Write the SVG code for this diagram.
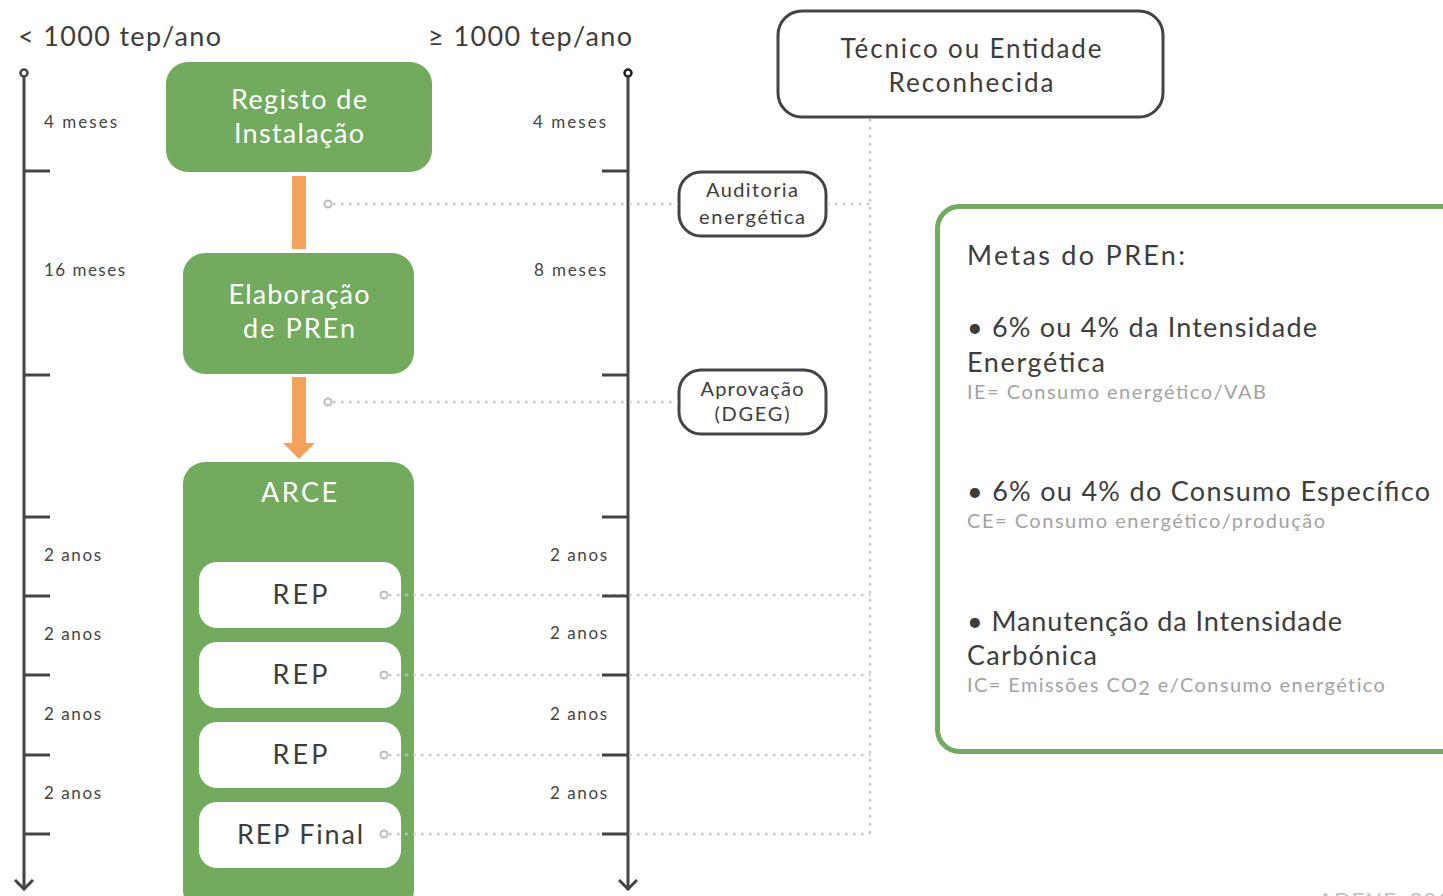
<svg xmlns="http://www.w3.org/2000/svg" width="1443" height="896" viewBox="0 0 1443 896">
<style>
text{font-family:Lato,"Open Sans",sans-serif}
.hd{font-size:27px;fill:#3d3d3d}
.dur{font-size:17px;fill:#444}
.gbox{fill:#72ab5e}
.gt{font-size:27px;fill:#fff;text-anchor:middle}
.wbox{fill:#fff}
.rt{font-size:27px;fill:#3d3d3d;text-anchor:middle}
.obox{fill:#fff;stroke:#444;stroke-width:3}
.ot{font-size:20px;fill:#3d3d3d;text-anchor:middle}
.tl{stroke:#444;stroke-width:3;fill:none}
.dot{stroke:#c6c6c6;stroke-width:2.5;stroke-dasharray:2.5 5.5;fill:none}
.pin{fill:#fff;stroke:#bdbdbd;stroke-width:2}
.mt{font-size:27px;fill:#3d3d3d}
.ms{font-size:20px;fill:#a3a3a3}
</style>
<defs>
<marker id="chev" viewBox="0 0 20 12" refX="10" refY="11" markerWidth="20" markerHeight="12" markerUnits="userSpaceOnUse" orient="0">
<path d="M1,1 L10,10 L19,1" fill="none" stroke="#444" stroke-width="3"/>
</marker>
</defs>

<text class="hd" x="18" y="46" textLength="203" lengthAdjust="spacing">&lt; 1000 tep/ano</text>
<text class="hd" x="428" y="46" textLength="204" lengthAdjust="spacing">≥ 1000 tep/ano</text>

<g id="timeline-left">
<line class="tl" x1="24" y1="77" x2="24" y2="890" marker-end="url(#chev)"/>
<circle cx="24" cy="73" r="3.5" fill="#fff" stroke="#444" stroke-width="2.5"/>
<path class="tl" d="M24,171H50M24,375H50M24,517H50M24,596H50M24,675H50M24,755H50M24,834H50"/>
<text class="dur" x="44" y="128" textLength="73" lengthAdjust="spacing">4 meses</text>
<text class="dur" x="44" y="276" textLength="81" lengthAdjust="spacing">16 meses</text>
<text class="dur" x="44" y="561" textLength="57" lengthAdjust="spacing">2 anos</text>
<text class="dur" x="44" y="640" textLength="57" lengthAdjust="spacing">2 anos</text>
<text class="dur" x="44" y="720" textLength="57" lengthAdjust="spacing">2 anos</text>
<text class="dur" x="44" y="799" textLength="57" lengthAdjust="spacing">2 anos</text>
</g>

<g id="timeline-right">
<line class="tl" x1="628" y1="77" x2="628" y2="890" marker-end="url(#chev)"/>
<circle cx="628" cy="73" r="3.5" fill="#fff" stroke="#222" stroke-width="2.5"/>
<text class="dur" x="533" y="128" textLength="73" lengthAdjust="spacing">4 meses</text>
<text class="dur" x="534" y="276" textLength="72" lengthAdjust="spacing">8 meses</text>
<text class="dur" x="550" y="561" textLength="57" lengthAdjust="spacing">2 anos</text>
<text class="dur" x="550" y="639" textLength="57" lengthAdjust="spacing">2 anos</text>
<text class="dur" x="550" y="720" textLength="57" lengthAdjust="spacing">2 anos</text>
<text class="dur" x="550" y="799" textLength="57" lengthAdjust="spacing">2 anos</text>
</g>

<g id="registo">
<rect class="gbox" x="166" y="62" width="266" height="110" rx="22"/>
<text class="gt" x="299" y="109" textLength="136" lengthAdjust="spacing">Registo de</text>
<text class="gt" x="299" y="143" textLength="130" lengthAdjust="spacing">Instalação</text>
</g>

<g id="elaboracao">
<rect class="gbox" x="183" y="253" width="231" height="121" rx="22"/>
<text class="gt" x="299" y="304" textLength="141" lengthAdjust="spacing">Elaboração</text>
<text class="gt" x="299" y="338" textLength="112" lengthAdjust="spacing">de PREn</text>
</g>

<g id="arce">
<rect class="gbox" x="183" y="462" width="231" height="450" rx="22"/>
<text class="gt" x="299" y="502" textLength="76" lengthAdjust="spacing">ARCE</text>
</g>

<g id="rep1">
<rect class="wbox" x="199" y="562" width="202" height="66" rx="18"/>
<text class="rt" x="300" y="604" textLength="55" lengthAdjust="spacing">REP</text>
</g>
<g id="rep2">
<rect class="wbox" x="199" y="642" width="202" height="66" rx="18"/>
<text class="rt" x="300" y="684" textLength="55" lengthAdjust="spacing">REP</text>
</g>
<g id="rep3">
<rect class="wbox" x="199" y="722" width="202" height="66" rx="18"/>
<text class="rt" x="300" y="764" textLength="55" lengthAdjust="spacing">REP</text>
</g>
<g id="rep-final">
<rect class="wbox" x="199" y="802" width="202" height="66" rx="18"/>
<text class="rt" x="300" y="844" textLength="126" lengthAdjust="spacing">REP Final</text>
</g>

<g id="auditoria">
<rect class="obox" x="679" y="172" width="147" height="64" rx="22"/>
<text class="ot" x="752" y="197" textLength="92" lengthAdjust="spacing">Auditoria</text>
<text class="ot" x="752" y="224" textLength="106" lengthAdjust="spacing">energética</text>
</g>

<g id="aprovacao">
<rect class="obox" x="679" y="370" width="147" height="64" rx="22"/>
<text class="ot" x="752" y="396" textLength="103" lengthAdjust="spacing">Aprovação</text>
<text class="ot" x="752" y="421" textLength="75" lengthAdjust="spacing">(DGEG)</text>
</g>

<g id="tecnico">
<rect class="obox" x="778" y="11" width="385" height="106" rx="24"/>
<text class="ot" x="971" y="58" style="font-size:26px" textLength="261" lengthAdjust="spacing">Técnico ou Entidade</text>
<text class="ot" x="971" y="92" style="font-size:26px" textLength="165" lengthAdjust="spacing">Reconhecida</text>
</g>

<g id="metas">
<rect x="937.5" y="206.5" width="560" height="545" rx="22" fill="#fff" stroke="#72ab5e" stroke-width="5"/>
<text class="mt" x="967" y="265" textLength="218" lengthAdjust="spacing">Metas do PREn:</text>
<text class="mt" x="967" y="337" textLength="350" lengthAdjust="spacing">• 6% ou 4% da Intensidade</text>
<text class="mt" x="967" y="372" textLength="138" lengthAdjust="spacing">Energética</text>
<text class="ms" x="967" y="399" textLength="299" lengthAdjust="spacing">IE= Consumo energético/VAB</text>
<text class="mt" x="967" y="501" textLength="463" lengthAdjust="spacing">• 6% ou 4% do Consumo Específico</text>
<text class="ms" x="967" y="528" textLength="358" lengthAdjust="spacing">CE= Consumo energético/produção</text>
<text class="mt" x="967" y="631" textLength="375" lengthAdjust="spacing">• Manutenção da Intensidade</text>
<text class="mt" x="967" y="665" textLength="130" lengthAdjust="spacing">Carbónica</text>
<text class="ms" x="967" y="692" style="letter-spacing:1.4px">IC= Emissões CO<tspan dy="3">2</tspan><tspan dy="-3"> e/Consumo energético</tspan></text>
</g>

<g id="connectors">
<path class="dot" d="M333,204H678"/>
<path class="dot" d="M333,402H678"/>
<path class="dot" d="M827,204H870"/>
<path class="dot" d="M870,119V834"/>
<path class="dot" d="M389,595H870M389,675H870M389,755H870M389,834H870"/>
<path class="tl" d="M602,171H628M602,375H628M602,517H628M602,596H628M602,675H628M602,755H628M602,834H628"/>
<rect x="292" y="176" width="14" height="73" fill="#f4a259"/>
<path d="M292,377H306V443H315L299,459L283,443H292Z" fill="#f4a259"/>
<circle class="pin" cx="328" cy="204" r="3.5"/>
<circle class="pin" cx="328" cy="402" r="3.5"/>
<circle class="pin" cx="384" cy="595" r="3.5"/>
<circle class="pin" cx="384" cy="675" r="3.5"/>
<circle class="pin" cx="384" cy="755" r="3.5"/>
<circle class="pin" cx="384" cy="834" r="3.5"/>
</g>

<text x="1318" y="908" style="font-size:22px;fill:#c4c4c4;letter-spacing:1px">ADENE, 2016</text>
</svg>
